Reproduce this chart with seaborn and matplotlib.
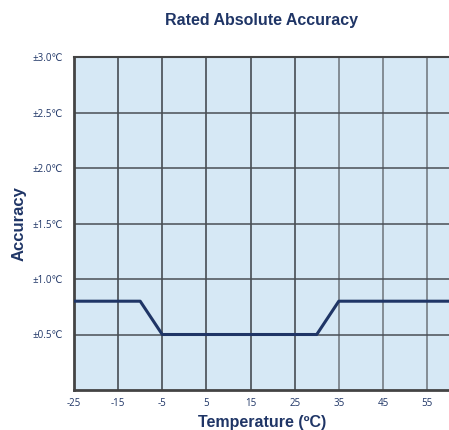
import matplotlib
matplotlib.use("Agg")
import matplotlib.pyplot as plt
import seaborn as sns
import pandas as pd

temperature = [-25, -10, -5, 30, 35, 60]
accuracy = [0.8, 0.8, 0.5, 0.5, 0.8, 0.8]
x_ticks = [-25, -15, -5, 5, 15, 25, 35, 45, 55]
y_ticks = [0.5, 1.0, 1.5, 2.0, 2.5, 3.0]
y_labels = ["±0.5℃", "±1.0℃", "±1.5℃", "±2.0℃", "±2.5℃", "±3.0℃"]

navy = "#1f3566"
sns.set_style("white")
plt.rcParams['font.family'] = ['Liberation Sans', 'DejaVu Sans']

df = pd.DataFrame({"Temperature": temperature, "Accuracy": accuracy})

fig = plt.figure(figsize=(4.49, 4.30), dpi=100)
ax = fig.add_axes([74/449, 40/430, 376/449, 333/430])
ax.set_facecolor("#d6e8f5")

for i, xt in enumerate(x_ticks):
    ax.axvline(xt, color="#3a3f45" if i < 6 else "#6d737a", lw=1.1, zorder=1)
for yt in y_ticks:
    ax.axhline(yt, color="#4a4f55", lw=1.1, zorder=1)

sns.lineplot(data=df, x="Temperature", y="Accuracy", ax=ax, color=navy, lw=2.2, zorder=3)

ax.set_xlim(-25, 60.2)
ax.set_ylim(0, 3.0)
ax.set_xticks(x_ticks)
ax.set_xticklabels([str(v) for v in x_ticks], fontsize=7, color=navy, family=['Open Sans', 'DejaVu Sans'])
ax.set_yticks(y_ticks)
ax.set_yticklabels(y_labels, fontsize=7, color=navy, family=['Open Sans', 'DejaVu Sans'])
ax.tick_params(axis='x', length=0, pad=6)
ax.tick_params(axis='y', length=0, pad=8)

for side in ["left", "bottom"]:
    ax.spines[side].set_color("#444444")
    ax.spines[side].set_linewidth(2)
ax.spines["top"].set_color("#444444")
ax.spines["top"].set_linewidth(1.5)
ax.spines["right"].set_visible(False)

ax.set_xlabel("Temperature (ºC)", fontsize=11.5, fontweight="bold", color=navy, labelpad=4)
ax.set_ylabel("Accuracy", fontsize=12, fontweight="bold", color=navy, labelpad=4)
fig.text(0.5 + 37/449, 1 - 20/430, "Rated Absolute Accuracy", ha="center", va="center",
         fontsize=11.5, fontweight="bold", color=navy)

fig.savefig("out.png", dpi=100)
